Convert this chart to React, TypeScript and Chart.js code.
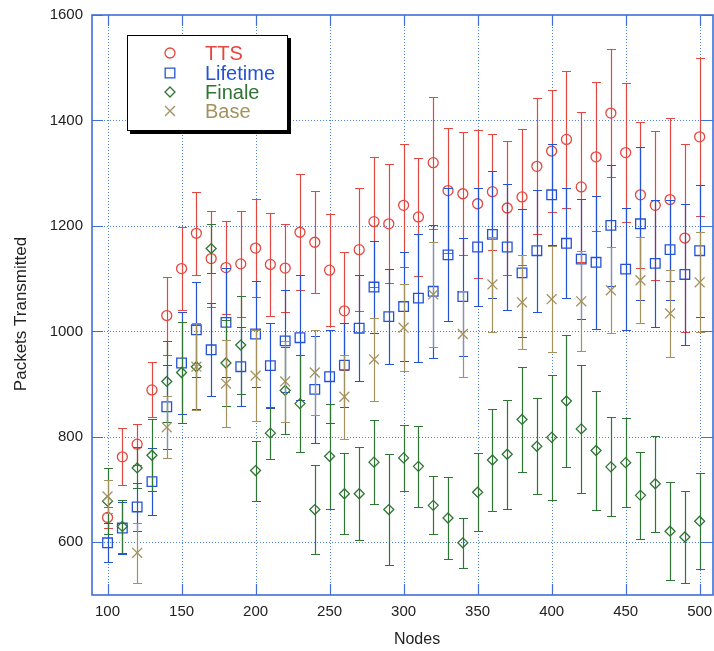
import React, { useEffect, useRef } from 'react';
import { Chart, registerables } from 'chart.js';

Chart.register(...registerables);

// ---------------- data ----------------
const nodes = [100, 110, 120, 130, 140, 150, 160, 170, 180, 190, 200, 210, 220, 230, 240, 250, 260, 270, 280, 290, 300,
  310, 320, 330, 340, 350, 360, 370, 380, 390, 400, 410, 420, 430, 440, 450, 460, 470, 480, 490, 500];
const baseNodes = [100, 120, 140, 160, 180, 200, 220, 240, 260, 280, 300, 320, 340, 360, 380, 400, 420, 440, 460, 480, 500];

const ttsMean = [647, 762, 786, 889, 1030, 1119, 1186, 1138, 1121, 1128, 1158, 1127, 1120, 1188, 1169, 1116, 1039, 1155, 1208, 1204, 1239,
  1217, 1320, 1267, 1261, 1242, 1265, 1234, 1255, 1313, 1342, 1364, 1274, 1331, 1414, 1339, 1259, 1239, 1250, 1177, 1369];
const ttsErr = [20, 54, 39, 52, 74, 78, 79, 91, 89, 100, 93, 97, 84, 110, 97, 106, 112, 117, 123, 113, 116,
  112, 125, 119, 117, 140, 110, 127, 129, 129, 115, 130, 142, 141, 122, 132, 138, 141, 155, 179, 150];

const lifetimeMean = [599, 627, 667, 715, 857, 940, 1003, 965, 1017, 933, 995, 935, 982, 988, 890, 914, 936, 1006, 1084, 1028, 1047,
  1063, 1076, 1145, 1066, 1160, 1184, 1160, 1111, 1153, 1259, 1167, 1137, 1131, 1201, 1118, 1204, 1129, 1155, 1108, 1153];
const lifetimeErr = [37, 50, 46, 63, 80, 97, 90, 88, 104, 75, 100, 81, 97, 119, 102, 88, 80, 100, 88, 90, 103,
  121, 126, 126, 112, 112, 121, 120, 122, 116, 96, 104, 114, 126, 115, 116, 145, 120, 95, 133, 125];

const finaleMean = [678, 630, 741, 765, 905, 922, 933, 1157, 940, 974, 736, 807, 888, 863, 662, 763, 692, 692, 752, 662, 760,
  744, 670, 646, 599, 695, 756, 767, 833, 782, 799, 868, 815, 774, 743, 751, 689, 711, 621, 610, 640];
const finaleErr = [63, 51, 39, 68, 77, 96, 80, 47, 81, 93, 57, 49, 83, 92, 84, 100, 77, 88, 79, 105, 62,
  77, 55, 78, 47, 74, 97, 103, 100, 91, 119, 126, 122, 113, 94, 84, 83, 91, 93, 87, 91];

const baseMean = [687, 580, 818, 933, 901, 916, 905, 922, 876, 947, 1007, 1070, 995, 1089, 1055, 1061, 1057, 1078, 1097, 1034, 1093];
const baseErr = [32, 57, 59, 83, 83, 86, 76, 81, 80, 79, 83, 100, 81, 90, 89, 100, 95, 82, 82, 83, 95];

const xTicks = [100, 150, 200, 250, 300, 350, 400, 450, 500];
const yTicks = [600, 800, 1000, 1200, 1400, 1600];

const seriesNames = ['TTS', 'Lifetime', 'Finale', 'Base'];
const seriesColors = ['#e4473f', '#2452d6', '#2f7534', '#a3915e'];
const seriesStyles = ['circle', 'rect', 'rectRot', 'crossRot'];
const seriesRadius = [5, 6.8, 5, 7];

const FONT = "'Liberation Sans', Arial, Helvetica, sans-serif";
const AXIS = '#3f6fd9';
const GRID = '#4f7fe3';

// ---------------- plugins ----------------
const gridPlugin = {
  id: 'dottedGrid',
  beforeDatasetsDraw(chart: any) {
    const { ctx, chartArea: a, scales } = chart;
    ctx.save();
    ctx.strokeStyle = GRID;
    ctx.lineWidth = 1;
    ctx.setLineDash([1, 2]);
    xTicks.forEach((v) => {
      const px = Math.round(scales.x.getPixelForValue(v)) + 0.5;
      ctx.beginPath();
      ctx.moveTo(px, a.top);
      ctx.lineTo(px, a.bottom);
      ctx.stroke();
    });
    yTicks.forEach((v) => {
      if (v >= 1600) return;
      const py = Math.round(scales.y.getPixelForValue(v)) + 0.5;
      ctx.beginPath();
      ctx.moveTo(a.left, py);
      ctx.lineTo(a.right, py);
      ctx.stroke();
    });
    ctx.restore();
  },
};

const errorBarPlugin = {
  id: 'errorBars',
  beforeDatasetDraw(chart: any, args: any) {
    const ds: any = chart.data.datasets[args.index];
    if (!ds.errors) return;
    const { ctx, scales } = chart;
    ctx.save();
    ctx.strokeStyle = ds.borderColor;
    ctx.lineWidth = 1.2;
    ds.data.forEach((p: any, i: number) => {
      const e = ds.errors[i];
      const px = Math.round(scales.x.getPixelForValue(p.x)) + 0.5;
      const t = Math.round(scales.y.getPixelForValue(p.y + e)) + 0.5;
      const b = Math.round(scales.y.getPixelForValue(p.y - e)) + 0.5;
      ctx.beginPath();
      ctx.moveTo(px, t);
      ctx.lineTo(px, b);
      ctx.moveTo(px - 4.5, t);
      ctx.lineTo(px + 4.5, t);
      ctx.moveTo(px - 4.5, b);
      ctx.lineTo(px + 4.5, b);
      ctx.stroke();
    });
    ctx.restore();
  },
};

function drawMarker(ctx: CanvasRenderingContext2D, style: string, x: number, y: number, r: number, color: string) {
  ctx.save();
  ctx.strokeStyle = color;
  ctx.lineWidth = 1.3;
  ctx.beginPath();
  if (style === 'circle') {
    ctx.arc(x, y, r, 0, Math.PI * 2);
  } else if (style === 'rect') {
    const s = Math.SQRT1_2 * r;
    ctx.rect(x - s, y - s, 2 * s, 2 * s);
  } else if (style === 'rectRot') {
    ctx.moveTo(x - r, y);
    ctx.lineTo(x, y - r);
    ctx.lineTo(x + r, y);
    ctx.lineTo(x, y + r);
    ctx.closePath();
  } else {
    const s = Math.SQRT1_2 * r;
    ctx.moveTo(x - s, y - s);
    ctx.lineTo(x + s, y + s);
    ctx.moveTo(x - s, y + s);
    ctx.lineTo(x + s, y - s);
  }
  ctx.stroke();
  ctx.restore();
}

const framePlugin = {
  id: 'frame',
  afterDraw(chart: any) {
    const { ctx, chartArea: a, scales } = chart;
    ctx.save();
    ctx.strokeStyle = AXIS;
    ctx.lineWidth = 1.2;
    const L = 11;
    xTicks.forEach((v) => {
      const px = Math.round(scales.x.getPixelForValue(v)) + 0.5;
      ctx.beginPath();
      ctx.moveTo(px, a.bottom);
      ctx.lineTo(px, a.bottom - L);
      ctx.moveTo(px, a.top);
      ctx.lineTo(px, a.top + L);
      ctx.stroke();
    });
    yTicks.forEach((v) => {
      const py = Math.round(scales.y.getPixelForValue(v)) + 0.5;
      ctx.beginPath();
      ctx.moveTo(a.left, py);
      ctx.lineTo(a.left + L, py);
      ctx.moveTo(a.right, py);
      ctx.lineTo(a.right - L, py);
      ctx.stroke();
    });
    ctx.lineWidth = 1.6;
    ctx.strokeRect(a.left, a.top, a.right - a.left, a.bottom - a.top);

    ctx.fillStyle = '#222';
    ctx.textAlign = 'center';
    ctx.textBaseline = 'middle';
    ctx.font = `16px ${FONT}`;
    ctx.fillText('Nodes', 417, 640);
    ctx.save();
    ctx.translate(21, 314);
    ctx.rotate(-Math.PI / 2);
    ctx.font = `17px ${FONT}`;
    ctx.fillText('Packets Transmitted', 0, 0);
    ctx.restore();

    const bx = 127, by = 35, bw = 161, bh = 96;
    ctx.fillStyle = '#000';
    ctx.fillRect(bx + 3, by + 3, bw, bh);
    ctx.fillStyle = '#fff';
    ctx.fillRect(bx, by, bw, bh);
    ctx.strokeStyle = '#000';
    ctx.lineWidth = 1;
    ctx.strokeRect(bx + 0.5, by + 0.5, bw - 1, bh - 1);
    const rows = [53, 73, 92, 111];
    ctx.font = `20px ${FONT}`;
    ctx.textAlign = 'left';
    ctx.textBaseline = 'alphabetic';
    seriesNames.forEach((name, i) => {
      drawMarker(ctx, seriesStyles[i], 170, rows[i], seriesRadius[i], seriesColors[i]);
      ctx.fillStyle = seriesColors[i];
      ctx.fillText(name, 205, rows[i] + 7);
    });
    ctx.restore();
  },
};

// ---------------- component ----------------
export default function App() {
  const canvasRef = useRef<HTMLCanvasElement | null>(null);

  useEffect(() => {
    if (!canvasRef.current) return;
    const means = [ttsMean, lifetimeMean, finaleMean, baseMean];
    const errs = [ttsErr, lifetimeErr, finaleErr, baseErr];
    const xs = [nodes, nodes, nodes, baseNodes];
    const datasets = seriesNames.map((name, i) => ({
      label: name,
      data: xs[i].map((x, j) => ({ x, y: means[i][j] })),
      errors: errs[i],
      showLine: false,
      pointStyle: seriesStyles[i],
      pointRadius: seriesRadius[i],
      pointHoverRadius: seriesRadius[i],
      pointBorderWidth: 1.3,
      borderColor: seriesColors[i],
      backgroundColor: 'rgba(0,0,0,0)',
      order: 3 - i,
    }));

    const chart = new Chart(canvasRef.current, {
      type: 'scatter',
      data: { datasets } as any,
      options: {
        animation: false,
        responsive: false,
        events: [],
        layout: { autoPadding: false, padding: { top: 15, right: 1, left: 0, bottom: 0 } },
        plugins: { legend: { display: false }, tooltip: { enabled: false }, title: { display: false } },
        scales: {
          x: {
            type: 'linear',
            min: 89.5,
            max: 509,
            afterBuildTicks: (s: any) => { s.ticks = xTicks.map((v) => ({ value: v })); },
            afterFit: (s: any) => { s.height = 56; s.paddingLeft = 0; s.paddingRight = 0; },
            grid: { display: false, drawTicks: false },
            border: { display: false },
            ticks: {
              color: '#222', font: { family: FONT, size: 15 }, padding: 8, maxRotation: 0, autoSkip: false,
              callback: (v: any) => String(v),
            },
          },
          y: {
            type: 'linear',
            min: 500,
            max: 1600,
            afterBuildTicks: (s: any) => { s.ticks = yTicks.map((v) => ({ value: v })); },
            afterFit: (s: any) => { s.width = 92; s.paddingTop = 0; s.paddingBottom = 0; },
            grid: { display: false, drawTicks: false },
            border: { display: false },
            ticks: {
              color: '#222', font: { family: FONT, size: 15 }, padding: 9,
              callback: (v: any) => String(v),
            },
          },
        },
      } as any,
      plugins: [gridPlugin, errorBarPlugin, framePlugin],
    });
    return () => chart.destroy();
  }, []);

  return (
    <div style={{ position: 'fixed', left: 0, top: 0, width: 714, height: 651, background: '#fff' }}>
      <canvas ref={canvasRef} width={714} height={651} />
    </div>
  );
}
